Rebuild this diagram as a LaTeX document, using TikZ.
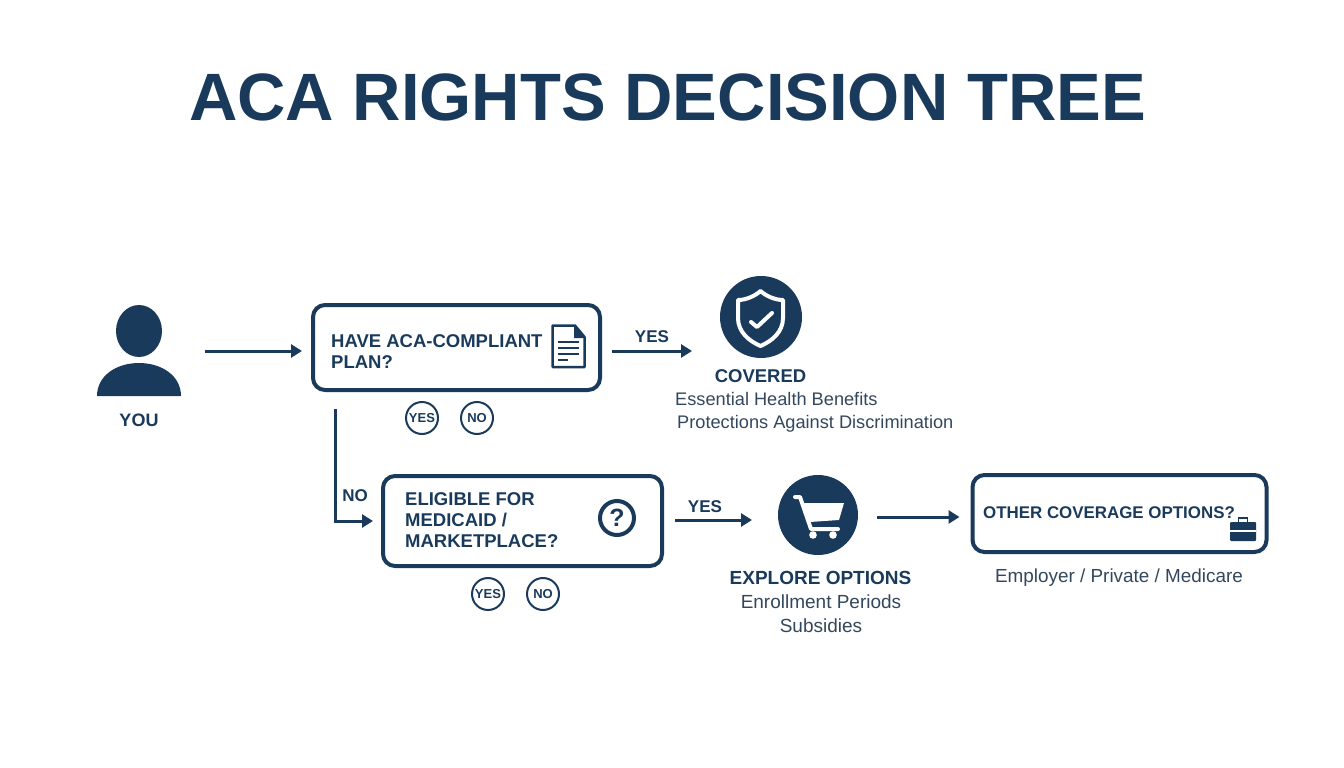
\documentclass[tikz,border=0pt]{standalone}
\usepackage{fontspec}
\setmainfont{Liberation Sans}
\usetikzlibrary{arrows.meta}
\definecolor{navy}{HTML}{1A3A5C}
\definecolor{bodytext}{HTML}{33475C}
\tikzset{
  qbox/.style={draw=navy, line width=4pt, rounded corners=12pt, outer sep=0pt, inner sep=0pt},
  iconcircle/.style={circle, fill=navy, inner sep=0pt, outer sep=0pt},
  ringlabel/.style={circle, draw=navy, line width=2pt, minimum size=32pt, inner sep=0pt, text=navy, font=\fontsize{13}{14}\selectfont\bfseries},
  flow/.style={draw=navy, line width=3pt, -{Triangle[length=11pt,width=13pt]}},
  boldtext/.style={text=navy, inner sep=0pt, font=\fontsize{18.5}{21}\selectfont\bfseries, align=left},
  smalllabel/.style={text=navy, inner sep=0pt, font=\fontsize{17}{18}\selectfont\bfseries},
  plaintext/.style={text=bodytext, inner sep=0pt, font=\fontsize{18.2}{20}\selectfont},
  iconline/.style={draw=white, line cap=round, line join=round}
}
\begin{document}
\begin{tikzpicture}[x=1pt,y=-1pt]
\useasboundingbox (0,0) rectangle (1344,768);
\node (title) [text=navy, inner sep=0pt, font=\fontsize{67}{68}\selectfont\bfseries] at (667.5,97.5) {ACA RIGHTS DECISION TREE};
\node (you) [minimum width=84pt, minimum height=92pt, inner sep=0pt, outer sep=0pt] at (139,351) {};
\fill [navy] (139,331) ellipse (23 and 26);
\fill [navy] (97,396) .. controls (97,376) and (116,363) .. (139,363) .. controls (162,363) and (181,376) .. (181,396) -- cycle;
\node (youlabel) [smalllabel, font=\fontsize{18}{19}\selectfont\bfseries] at (139,420) {YOU};
\node (plan) [qbox, minimum width=287pt, minimum height=85pt] at (456.5,347.5) {};
\node (plantext) [boldtext, anchor=west] at (331,351.5) {HAVE ACA-COMPLIANT\\PLAN?};
\draw [navy, line width=2.5pt, line join=round] (552.5,325.5) -- (575,325.5) -- (584.5,337) -- (584.5,367) -- (552.5,367) -- cycle;
\fill [navy] (574,325) -- (585,338) -- (574,338) -- cycle;
\draw [navy, line width=2.5pt] (558,342) -- (579,342) (558,348) -- (579,348) (558,354) -- (579,354) (558,360) -- (568,360);
\node (planyes) [ringlabel] at (422,418) {YES};
\node (planno) [ringlabel] at (477,418) {NO};
\node (covered) [iconcircle, minimum size=82pt] at (761,317) {};
\draw [iconline, line width=4pt] (760.5,291) .. controls (766,296) and (775,300) .. (783,300) -- (783,318) .. controls (783,332) and (772,341) .. (760.5,346) .. controls (749,341) and (738,332) .. (738,318) -- (738,300) .. controls (746,300) and (755,296) .. (760.5,291) -- cycle;
\draw [iconline, line width=4pt] (751,322) -- (757,327) -- (772,313);
\node (coveredhead) [smalllabel, font=\fontsize{18.5}{20}\selectfont\bfseries] at (760.5,376) {COVERED};
\node (coveredone) [plaintext, anchor=west] at (675,399) {Essential Health Benefits};
\node (coveredtwo) [plaintext, anchor=west] at (677,424) {Protections Against Discrimination};
\node (elig) [qbox, minimum width=279pt, minimum height=90pt] at (522.5,521) {};
\node (eligtext) [boldtext, anchor=west] at (405,520.5) {ELIGIBLE FOR\\MEDICAID /\\MARKETPLACE?};
\node (quest) [circle, draw=navy, line width=4pt, minimum size=34pt, inner sep=0pt, text=navy, font=\fontsize{25}{26}\selectfont\bfseries] at (617,518) {?};
\node (eligyes) [ringlabel] at (488,594) {YES};
\node (eligno) [ringlabel] at (543,594) {NO};
\node (cart) [iconcircle, minimum size=80pt] at (818,515) {};
\draw [iconline, line width=4pt] (795,497) -- (800,497) -- (811,529) -- (838,529);
\fill [white] (802,503) -- (844,503) -- (839,520) -- (810,522) -- cycle;
\fill [white] (813,535) circle (3.8);
\fill [white] (833,535) circle (3.8);
\node (explorehead) [smalllabel, font=\fontsize{19}{20}\selectfont\bfseries] at (820.5,578) {EXPLORE OPTIONS};
\node (exploreone) [plaintext, font=\fontsize{19}{20}\selectfont] at (821,602) {Enrollment Periods};
\node (exploretwo) [plaintext, font=\fontsize{19}{20}\selectfont] at (821,626) {Subsidies};
\node (other) [qbox, minimum width=294pt, minimum height=77pt] at (1119.5,513.5) {};
\node (othertext) [boldtext, font=\fontsize{16.9}{20}\selectfont\bfseries, anchor=west] at (983,513) {OTHER COVERAGE OPTIONS?};
\fill [navy, rounded corners=1pt] (1230,522) rectangle (1256,541);
\draw [navy, line width=1.8pt] (1238.5,522) -- (1238.5,518) -- (1247.5,518) -- (1247.5,522);
\draw [white, line width=1.2pt] (1230,531) -- (1256,531);
\node (othernote) [plaintext, font=\fontsize{18.9}{20}\selectfont] at (1119,577.5) {Employer / Private / Medicare};
\draw [flow, shorten <=24pt, shorten >=11pt] (you.east) -- (plan.west |- you);
\draw [flow, shorten <=12pt, shorten >=28pt] (plan.east |- you) -- (covered.west |- you);
\draw [flow, shorten <=19pt, shorten >=10pt] ([xshift=22pt]plan.south west) |- (elig.west);
\draw [flow, shorten <=13pt, shorten >=26pt] ([yshift=1pt]elig.east) -- ([yshift=-5pt]cart.west);
\draw [flow, shorten <=19pt, shorten >=13pt] ([yshift=-2pt]cart.east) -- (other.west |- 0,517);
\node (yesone) [smalllabel] at (652,337) {YES};
\node (noone) [smalllabel] at (355,496) {NO};
\node (yestwo) [smalllabel] at (705,507) {YES};
\end{tikzpicture}
\end{document}
